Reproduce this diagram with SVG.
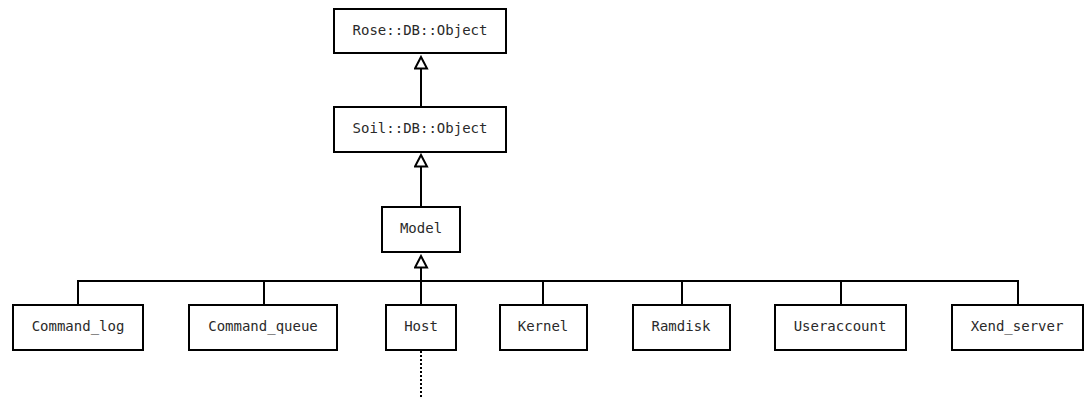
<svg xmlns="http://www.w3.org/2000/svg" width="1090" height="398" viewBox="0 0 1090 398">
  <style>
    .box { fill: #ffffff; stroke: #000000; stroke-width: 2; }
    .lbl { font-family: "DejaVu Sans Mono", "Liberation Mono", monospace; font-size: 14px; fill: #2a2a2a; text-anchor: middle; }
    .edge { fill: none; stroke: #000000; stroke-width: 2; }
    .dots { fill: none; stroke: #000000; stroke-width: 2; stroke-dasharray: 2 2; }
  </style>
  <defs>
    <!-- hollow triangle for the inheritance arrows; drawn along +x so orient="auto" points it at the parent -->
    <marker id="inherit" viewBox="0 0 15 15" refX="13" refY="7.5" markerWidth="15" markerHeight="15" markerUnits="userSpaceOnUse" orient="auto">
      <path d="M13,7.5 L1.5,1.5 L1.5,13.5 Z" fill="#ffffff" stroke="#000000" stroke-width="2" stroke-linejoin="miter"/>
    </marker>
  </defs>

  <g id="connectors">
    <line class="edge" x1="421" y1="107" x2="421" y2="57" marker-end="url(#inherit)"/>
    <line class="edge" x1="421" y1="206" x2="421" y2="155" marker-end="url(#inherit)"/>
    <line class="edge" x1="421" y1="281" x2="421" y2="256" marker-end="url(#inherit)"/>
    <polyline class="edge" points="78,305 78,281 1018,281 1018,305"/>
    <line class="edge" x1="264" y1="281" x2="264" y2="305"/>
    <line class="edge" x1="421" y1="281" x2="421" y2="305"/>
    <line class="edge" x1="543" y1="281" x2="543" y2="305"/>
    <line class="edge" x1="682" y1="281" x2="682" y2="305"/>
    <line class="edge" x1="841" y1="281" x2="841" y2="305"/>
    <line class="dots" x1="421" y1="351" x2="421" y2="398"/>
  </g>

  <g id="rose_db_object">
    <rect class="box" x="334" y="9" width="172" height="44"/>
    <text class="lbl" x="420" y="35">Rose::DB::Object</text>
  </g>
  <g id="soil_db_object">
    <rect class="box" x="334" y="107" width="172" height="45"/>
    <text class="lbl" x="420" y="133">Soil::DB::Object</text>
  </g>
  <g id="model">
    <rect class="box" x="382" y="207" width="78" height="45"/>
    <text class="lbl" x="421" y="233">Model</text>
  </g>
  <g id="command_log">
    <rect class="box" x="13" y="305" width="130" height="45"/>
    <text class="lbl" x="78" y="331">Command_log</text>
  </g>
  <g id="command_queue">
    <rect class="box" x="189" y="305" width="148" height="45"/>
    <text class="lbl" x="263" y="331">Command_queue</text>
  </g>
  <g id="host">
    <rect class="box" x="386" y="305" width="70" height="45"/>
    <text class="lbl" x="421" y="331">Host</text>
  </g>
  <g id="kernel">
    <rect class="box" x="500" y="305" width="87" height="45"/>
    <text class="lbl" x="543" y="331">Kernel</text>
  </g>
  <g id="ramdisk">
    <rect class="box" x="633" y="305" width="97" height="45"/>
    <text class="lbl" x="681" y="331">Ramdisk</text>
  </g>
  <g id="useraccount">
    <rect class="box" x="775" y="305" width="131" height="45"/>
    <text class="lbl" x="840" y="331">Useraccount</text>
  </g>
  <g id="xend_server">
    <rect class="box" x="952" y="305" width="131" height="45"/>
    <text class="lbl" x="1017" y="331">Xend_server</text>
  </g>
</svg>
